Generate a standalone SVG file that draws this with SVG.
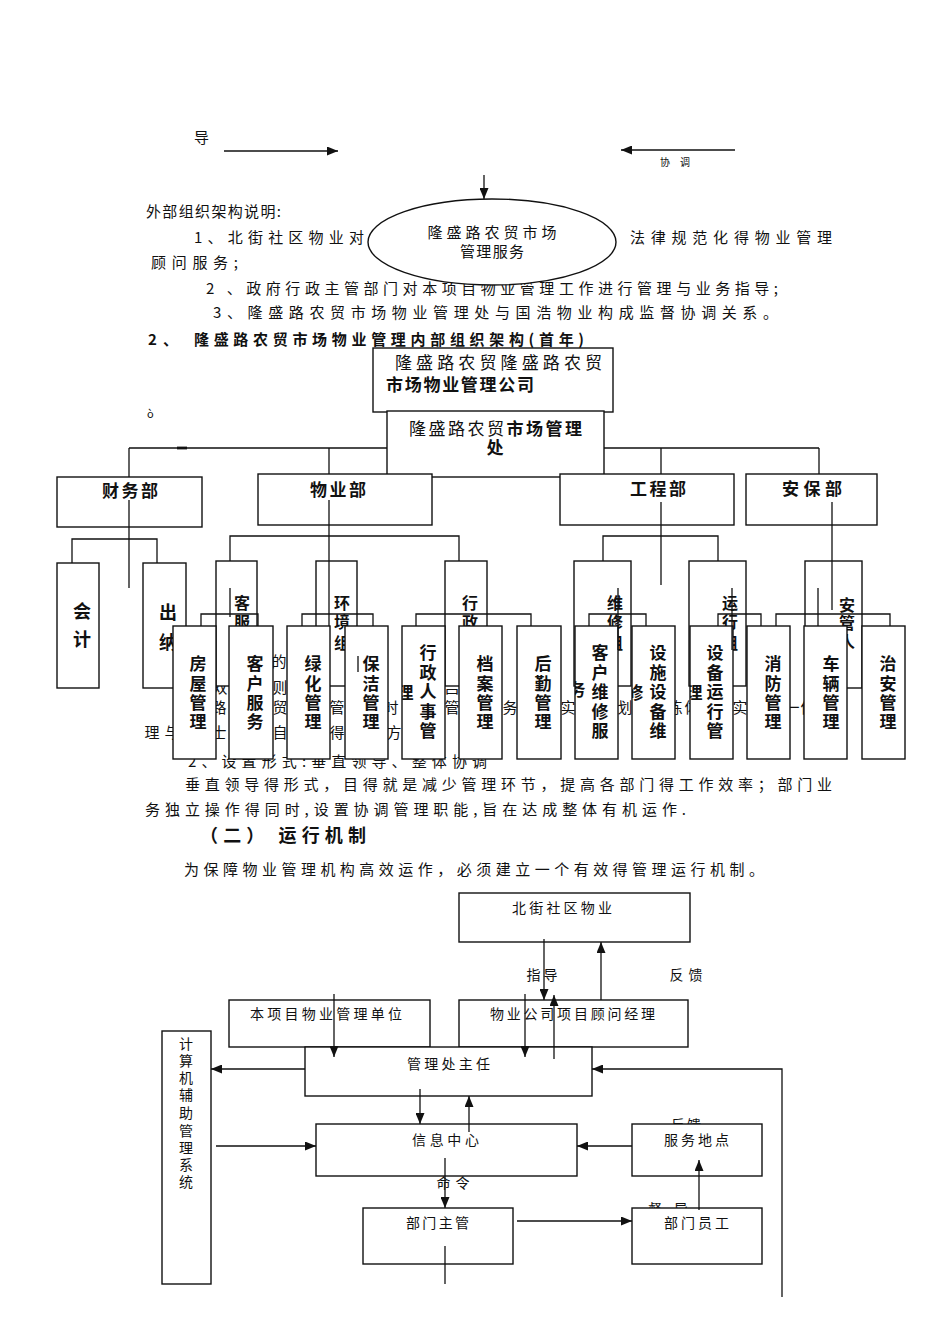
<svg xmlns="http://www.w3.org/2000/svg" width="950" height="1344" viewBox="0 0 950 1344">
<defs>
<marker id="ah" markerUnits="userSpaceOnUse" markerWidth="11" markerHeight="9" refX="11" refY="4.5" orient="auto"><path d="M0,0 L11,4.5 L0,9 z" fill="#111"/></marker>
<clipPath id="c-xz"><rect x="402" y="626" width="43" height="133"/></clipPath>
<clipPath id="c-kh"><rect x="575" y="626" width="43" height="133"/></clipPath>
<clipPath id="c-ss"><rect x="632" y="626" width="43" height="133"/></clipPath>
<clipPath id="c-sb"><rect x="690" y="626" width="43" height="133"/></clipPath>
</defs>
<style>
text{font-family:"Noto Sans CJK SC","Noto Sans",sans-serif;fill:#111;font-size:15px}
.b{font-weight:bold}
.s14{font-size:14px}
.s16{font-size:16px}
.s17{font-size:17px}
.s18{font-size:18px}
.m{text-anchor:middle}
.box{fill:#fff;stroke:#111;stroke-width:1.4}
.ln{stroke:#111;stroke-width:1.3;fill:none}
.ar{marker-end:url(#ah)}
.h{fill:#333}
</style>
<rect width="950" height="1344" fill="#fff"/>

<!-- body text (behind nodes) -->
<g id="body-text">
<text x="146" y="217" textLength="135" lengthAdjust="spacing">外部组织架构说明:</text>
<text x="194" y="243" textLength="170" lengthAdjust="spacing">1、北街社区物业对</text>
<text x="630" y="243" textLength="202" lengthAdjust="spacing">法律规范化得物业管理</text>
<text x="151" y="268" textLength="87" lengthAdjust="spacing">顾问服务;</text>
<text x="206" y="294" textLength="572" lengthAdjust="spacing">2 、政府行政主管部门对本项目物业管理工作进行管理与业务指导;</text>
<text x="213" y="318" textLength="565" lengthAdjust="spacing">3、隆盛路农贸市场物业管理处与国浩物业构成监督协调关系。</text>
<text class="b" x="148" y="345" textLength="30" lengthAdjust="spacing">2 、</text>
<text class="b" x="194" y="345" textLength="390" lengthAdjust="spacing">隆盛路农贸市场物业管理内部组织架构(首年)</text>
<text x="147" y="418" style="font-size:11px">ò</text>
<text x="188" y="767" textLength="299" lengthAdjust="spacing">2、设置形式:垂直领导、整体协调</text>
<text x="185" y="790" textLength="647" lengthAdjust="spacing">垂直领导得形式，目得就是减少管理环节，提高各部门得工作效率；部门业</text>
<text x="145" y="815" textLength="541" lengthAdjust="spacing">务独立操作得同时,设置协调管理职能,旨在达成整体有机运作.</text>
<text class="b s18" x="200" y="842" textLength="166" lengthAdjust="spacing">（二） 运行机制</text>
<text x="184" y="875" textLength="580" lengthAdjust="spacing">为保障物业管理机构高效运作，必须建立一个有效得管理运行机制。</text>
</g>

<!-- text fragments covered by the org chart boxes -->
<g id="hidden-fragments" class="h">
<text class="m" x="279" y="667">的</text>
<text class="m" x="220" y="693">双</text>
<text class="m" x="280" y="693">则</text>
<text class="m" x="452" y="693">吕</text>
<text class="m" x="219" y="713">路</text>
<text class="m" x="280" y="713">贸</text>
<text class="m" x="337" y="713">管</text>
<text class="m" x="391" y="713">时</text>
<text class="m" x="452" y="713">管</text>
<text class="m" x="510" y="713">务</text>
<text class="m" x="568" y="713">实</text>
<text class="m" x="625" y="713">划</text>
<text class="m" x="675" y="713">练</text>
<text class="m" x="692" y="713">体</text>
<text class="m" x="740" y="713">实</text>
<text class="m" x="792" y="713">一</text>
<text class="m" x="808" y="713">体</text>
<text class="m" x="152" y="738">理</text>
<text class="m" x="172" y="738">与</text>
<text class="m" x="219" y="738">士</text>
<text class="m" x="280" y="738">自</text>
<text class="m" x="337" y="738">得</text>
<text class="m" x="394" y="738">方</text>
</g>

<g id="partial-labels">
<text class="s14 m" x="686" y="1130" textLength="30" lengthAdjust="spacing">反馈</text>
<text class="s14 m" x="668" y="1214" textLength="40" lengthAdjust="spacing">督 导</text>
</g>

<!-- top: external structure -->
<g id="n-service">
<ellipse class="box" cx="492" cy="242" rx="124" ry="43"/>
<text class="m" x="492" y="238" textLength="129" lengthAdjust="spacing">隆盛路农贸市场</text>
<text class="m" x="492" y="257" textLength="64" lengthAdjust="spacing">管理服务</text>
</g>

<!-- org chart -->
<g id="n-company">
<rect class="box" x="373" y="348" width="240" height="64"/>
<text class="s17" x="395" y="369" textLength="207" lengthAdjust="spacing">隆盛路农贸隆盛路农贸</text>
<text class="s17 b" x="386" y="391" textLength="148" lengthAdjust="spacing">市场物业管理公司</text>
</g>
<g id="n-office">
<rect class="box" x="387" y="411" width="217" height="66"/>
<text class="s17" x="409" y="435" textLength="173" lengthAdjust="spacing">隆盛路农贸<tspan class="b">市场管理</tspan></text>
<text class="s17 b m" x="495" y="454">处</text>
</g>
<g id="n-finance">
<rect class="box" x="57" y="477" width="145" height="50"/>
<text class="s17 b m" x="130" y="497" textLength="56" lengthAdjust="spacing">财务部</text>
</g>
<g id="n-property">
<rect class="box" x="258" y="474" width="174" height="51"/>
<text class="s17 b m" x="338" y="496" textLength="56" lengthAdjust="spacing">物业部</text>
</g>
<g id="n-engineering">
<rect class="box" x="560" y="474" width="174" height="51"/>
<text class="s17 b m" x="658" y="495" textLength="56" lengthAdjust="spacing">工程部</text>
</g>
<g id="n-security">
<rect class="box" x="746" y="474" width="131" height="51"/>
<text class="s17 b m" x="812" y="495" textLength="60" lengthAdjust="spacing">安保部</text>
</g>

<g id="n-accounting">
<rect class="box" x="57" y="563" width="42" height="125"/>
<text class="s18 b m"><tspan x="82" y="618">会</tspan><tspan x="82" y="646">计</tspan></text>
</g>
<g id="n-cashier">
<rect class="box" x="143" y="563" width="43" height="125"/>
<text class="s18 b m"><tspan x="168" y="619">出</tspan><tspan x="168" y="649">纳</tspan></text>
</g>
<g id="n-service-group">
<rect class="box" x="216" y="561" width="41" height="125"/>
<text class="s16 b m"><tspan x="242" y="609">客</tspan><tspan x="242" y="628">服</tspan><tspan x="242" y="647">组</tspan></text>
</g>
<g id="n-environment-group">
<rect class="box" x="316" y="561" width="41" height="125"/>
<text class="s16 b m"><tspan x="342" y="609">环</tspan><tspan x="342" y="628">境</tspan><tspan x="342" y="649">组</tspan></text>
</g>
<g id="n-admin-group">
<rect class="box" x="445" y="561" width="42" height="125"/>
<text class="s16 b m"><tspan x="470" y="609">行</tspan><tspan x="470" y="628">政</tspan><tspan x="470" y="647">组</tspan></text>
</g>
<g id="n-repair-group">
<rect class="box" x="574" y="561" width="57" height="125"/>
<text class="s16 b m"><tspan x="615" y="609">维</tspan><tspan x="615" y="628">修</tspan><tspan x="615" y="649">组</tspan></text>
</g>
<g id="n-operation-group">
<rect class="box" x="689" y="561" width="57" height="125"/>
<text class="s16 b m"><tspan x="730" y="609">运</tspan><tspan x="730" y="628">行</tspan><tspan x="730" y="649">组</tspan></text>
</g>
<g id="n-guard-group">
<rect class="box" x="805" y="561" width="57" height="127"/>
<text class="s16 b m"><tspan x="847" y="611">安</tspan><tspan x="847" y="629">管</tspan><tspan x="847" y="647">人</tspan></text>
</g>

<g id="n-housing">
<rect class="box" x="173" y="626" width="43" height="133"/>
<text class="s17 b m"><tspan x="198" y="670">房</tspan><tspan x="198" y="690">屋</tspan><tspan x="198" y="709">管</tspan><tspan x="198" y="728">理</tspan></text>
</g>
<g id="n-customer">
<rect class="box" x="229" y="626" width="44" height="133"/>
<text class="s17 b m"><tspan x="255" y="670">客</tspan><tspan x="255" y="690">户</tspan><tspan x="255" y="709">服</tspan><tspan x="255" y="728">务</tspan></text>
</g>
<g id="n-greening">
<rect class="box" x="287" y="626" width="43" height="133"/>
<text class="s17 b m"><tspan x="313" y="670">绿</tspan><tspan x="313" y="690">化</tspan><tspan x="313" y="709">管</tspan><tspan x="313" y="728">理</tspan></text>
</g>
<g id="n-cleaning">
<rect class="box" x="345" y="626" width="43" height="133"/>
<text class="s17 b m"><tspan x="371" y="670">保</tspan><tspan x="371" y="690">洁</tspan><tspan x="371" y="709">管</tspan><tspan x="371" y="728">理</tspan></text>
</g>
<g id="n-hr">
<rect class="box" x="402" y="626" width="43" height="133"/>
<text class="s17 b m"><tspan x="428" y="659">行</tspan><tspan x="428" y="679">政</tspan><tspan x="428" y="698">人</tspan><tspan x="428" y="718">事</tspan><tspan x="428" y="737">管</tspan></text>
<text class="s17 b m" x="405" y="699" clip-path="url(#c-xz)">理</text>
</g>
<g id="n-archive">
<rect class="box" x="459" y="626" width="43" height="133"/>
<text class="s17 b m"><tspan x="485" y="670">档</tspan><tspan x="485" y="690">案</tspan><tspan x="485" y="709">管</tspan><tspan x="485" y="728">理</tspan></text>
</g>
<g id="n-logistics">
<rect class="box" x="517" y="626" width="44" height="133"/>
<text class="s17 b m"><tspan x="543" y="670">后</tspan><tspan x="543" y="690">勤</tspan><tspan x="543" y="709">管</tspan><tspan x="543" y="728">理</tspan></text>
</g>
<g id="n-repair-service">
<rect class="box" x="575" y="626" width="43" height="133"/>
<text class="s17 b m"><tspan x="600" y="659">客</tspan><tspan x="600" y="679">户</tspan><tspan x="600" y="698">维</tspan><tspan x="600" y="718">修</tspan><tspan x="600" y="737">服</tspan></text>
<text class="s17 b m" x="577" y="696" clip-path="url(#c-kh)">务</text>
</g>
<g id="n-facility">
<rect class="box" x="632" y="626" width="43" height="133"/>
<text class="s17 b m"><tspan x="658" y="659">设</tspan><tspan x="658" y="679">施</tspan><tspan x="658" y="698">设</tspan><tspan x="658" y="718">备</tspan><tspan x="658" y="737">维</tspan></text>
<text class="s17 b m" x="635" y="699" clip-path="url(#c-ss)">修</text>
</g>
<g id="n-equipment">
<rect class="box" x="690" y="626" width="43" height="133"/>
<text class="s17 b m"><tspan x="715" y="659">设</tspan><tspan x="715" y="679">备</tspan><tspan x="715" y="698">运</tspan><tspan x="715" y="718">行</tspan><tspan x="715" y="737">管</tspan></text>
<text class="s17 b m" x="694" y="699" clip-path="url(#c-sb)">理</text>
</g>
<g id="n-fire">
<rect class="box" x="747" y="626" width="43" height="133"/>
<text class="s17 b m"><tspan x="773" y="670">消</tspan><tspan x="773" y="690">防</tspan><tspan x="773" y="709">管</tspan><tspan x="773" y="728">理</tspan></text>
</g>
<g id="n-vehicle">
<rect class="box" x="804" y="626" width="43" height="133"/>
<text class="s17 b m"><tspan x="831" y="670">车</tspan><tspan x="831" y="690">辆</tspan><tspan x="831" y="709">管</tspan><tspan x="831" y="728">理</tspan></text>
</g>
<g id="n-publicsecurity">
<rect class="box" x="862" y="626" width="43" height="133"/>
<text class="s17 b m"><tspan x="888" y="670">治</tspan><tspan x="888" y="690">安</tspan><tspan x="888" y="709">管</tspan><tspan x="888" y="728">理</tspan></text>
</g>

<!-- operation mechanism chart -->
<g id="n-beijie">
<rect class="box" x="459" y="893" width="231" height="49"/>
<text class="s14" x="512" y="913" textLength="100" lengthAdjust="spacing">北街社区物业</text>
</g>
<g id="n-unit">
<rect class="box" x="229" y="1000" width="201" height="47"/>
<text class="s14" x="250" y="1019" textLength="152" lengthAdjust="spacing">本项目物业管理单位</text>
</g>
<g id="n-advisor">
<rect class="box" x="459" y="1000" width="229" height="47"/>
<text class="s14" x="490" y="1019" textLength="165" lengthAdjust="spacing">物业公司项目顾问经理</text>
</g>
<g id="n-director">
<rect class="box" x="305" y="1047" width="287" height="49"/>
<text class="s14" x="407" y="1069" textLength="83" lengthAdjust="spacing">管理处主任</text>
</g>
<g id="n-computer">
<rect class="box" x="162" y="1031" width="49" height="253"/>
<text class="s14 m"><tspan x="186" y="1049">计</tspan><tspan x="186" y="1066">算</tspan><tspan x="186" y="1083">机</tspan><tspan x="186" y="1100">辅</tspan><tspan x="186" y="1118">助</tspan><tspan x="186" y="1136">管</tspan><tspan x="186" y="1153">理</tspan><tspan x="186" y="1170">系</tspan><tspan x="186" y="1187">统</tspan></text>
</g>
<g id="n-info">
<rect class="box" x="316" y="1124" width="261" height="52"/>
<text class="s14" x="412" y="1145" textLength="67" lengthAdjust="spacing">信息中心</text>
</g>
<g id="n-site">
<rect class="box" x="632" y="1124" width="130" height="52"/>
<text class="s14" x="664" y="1145" textLength="65" lengthAdjust="spacing">服务地点</text>
</g>
<g id="n-supervisor">
<rect class="box" x="363" y="1208" width="150" height="56"/>
<text class="s14" x="406" y="1228" textLength="63" lengthAdjust="spacing">部门主管</text>
</g>
<g id="n-staff">
<rect class="box" x="632" y="1208" width="130" height="56"/>
<text class="s14" x="664" y="1228" textLength="65" lengthAdjust="spacing">部门员工</text>
</g>

<!-- connectors -->
<g id="connectors" class="ln">
<path class="ar" d="M224 151 H338"/>
<path class="ar" d="M735 150 H621"/>
<path class="ar" d="M484 175 V199"/>

<path d="M129 448 H387 M604 448 H819"/>
<path d="M177 448 H187" stroke-width="2.8"/>
<path d="M129 448 V477 M129 500 V588"/>
<path d="M329 448 V474 M329 500 V626"/>
<path d="M661 448 V474 M661 502 V585"/>
<path d="M819 448 V474 M832 502 V610"/>
<path d="M72 563 V539 H157 V563"/>
<path d="M230 561 V536 H459 V561"/>
<path d="M603 561 V536 H718 V561"/>
<path d="M201 626 V614 H258 V626"/>
<path d="M302 626 V614 H373 V626"/>
<path d="M416 626 V614 H531 V626"/>
<path d="M589 626 V614 H646 V626"/>
<path d="M718 626 V614 H761 V626"/>
<path d="M776 626 V614 H890 V626"/>
<path d="M230 588 V617 M618 588 V650 M732 588 V650 M818 588 V626 M358 656 V672"/>

<path class="ar" d="M544 939 V1000"/>
<path class="ar" d="M601 1000 V942"/>
<path class="ar" d="M334 994 V1057"/>
<path class="ar" d="M525 994 V1057"/>
<path class="ar" d="M554 1059 V995"/>
<path class="ar" d="M305 1069 H211"/>
<path class="ar" d="M782 1297 V1069 H592"/>
<path class="ar" d="M420 1089 V1124"/>
<path class="ar" d="M469 1132 V1096"/>
<path class="ar" d="M216 1146 H316"/>
<path class="ar" d="M632 1146 H577"/>
<path class="ar" d="M445 1158 V1208"/>
<path class="ar" d="M517 1221 H632"/>
<path class="ar" d="M699 1210 V1160"/>
<path d="M445 1246 V1284"/>
</g>

<g id="connector-labels">
<text x="194" y="143">导</text>
<text x="660" y="166" style="font-size:10px" textLength="30" lengthAdjust="spacing">协 调</text>
<text class="s14 m" x="542" y="980" textLength="31" lengthAdjust="spacing">指导</text>
<text class="s14 m" x="686" y="980" textLength="33" lengthAdjust="spacing">反馈</text>
<text class="s14 m" x="453" y="1188" textLength="33" lengthAdjust="spacing">命令</text>
</g>
</svg>
